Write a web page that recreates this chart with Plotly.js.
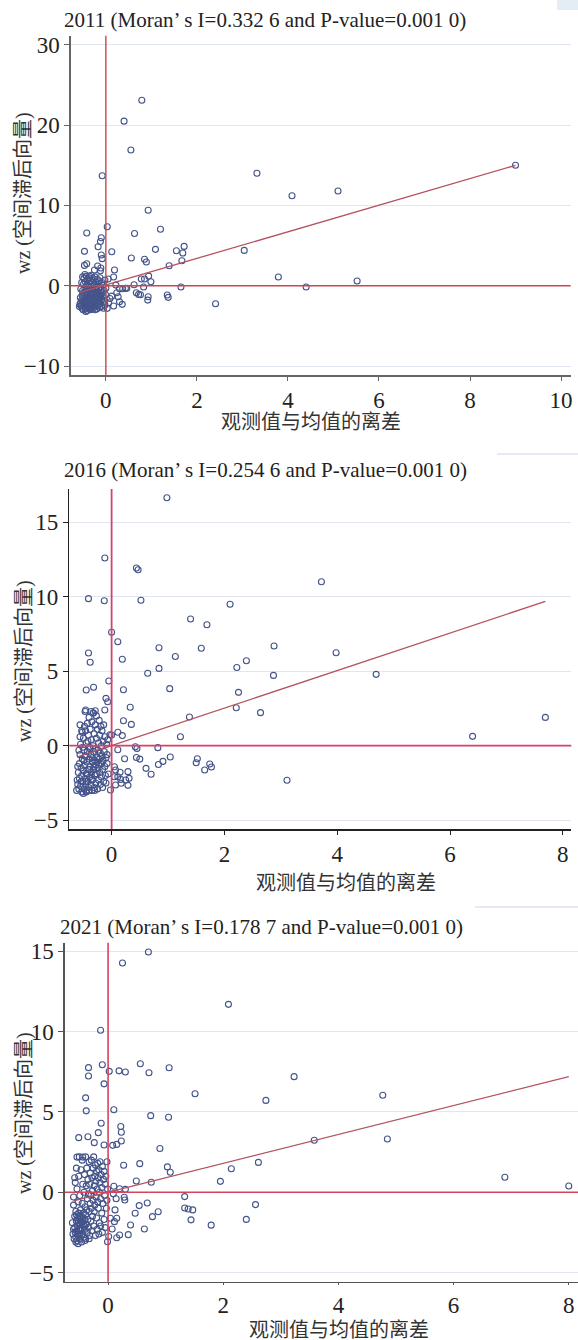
<!DOCTYPE html>
<html>
<head>
<meta charset="utf-8">
<script src="https://cdn.plot.ly/plotly-3.0.1.min.js"></script>
<style>html,body{margin:0;padding:0;background:#fff;}#chart{width:578px;height:1340px;}</style>
</head>
<body>
<div id="chart"></div>
<script>
// ---------------- DATA ----------------
const titles = [
  "2011 (Moran\u2019 s I=0.332 6 and P-value=0.001 0)",
  "2016 (Moran\u2019 s I=0.254 6 and P-value=0.001 0)",
  "2021 (Moran\u2019 s I=0.178 7 and P-value=0.001 0)"
];
const xTitle = "观测值与均值的离差";
const yTitle = "wz (空间滞后向量)";

// 2011 points [x, wz]
const pts2011 = [
 [-0.08,13.7],[3.32,14.0],[9.0,15.0],[4.09,11.2],[5.10,11.8],[0.93,9.4],[0.03,7.35],[1.2,7.03],[-0.42,6.56],[0.63,6.5],
 [-0.1,5.98],[-0.12,5.5],[-0.17,4.86],[-0.47,4.28],[0.13,4.24],[1.09,4.53],[1.55,4.36],[1.72,4.9],[1.69,4.07],[1.67,3.11],
 [3.04,4.4],[-0.1,3.82],[-0.08,3.37],[0.56,3.45],[0.85,3.29],[0.89,2.96],[1.39,2.49],[-0.42,2.74],[-0.47,2.53],[-0.18,2.46],
 [-0.11,2.2],[-0.12,1.87],[0.19,1.95],[-0.25,1.95],[0.17,1.08],[0.05,0.83],[0.94,1.2],[0.78,0.83],[0.85,0.83],[0.99,0.5],
 [0.62,0.12],[0.22,0.08],[3.79,1.08],[5.52,0.58],[4.4,-0.16],[1.65,-0.16],[2.41,-2.24],[0.83,-0.16],[0.46,-0.33],[0.37,-0.37],
 [0.3,-0.37],[0.67,-0.87],[0.72,-1.08],[0.76,-1.12],[0.93,-1.37],[0.92,-1.79],[1.35,-1.16],[1.37,-1.45],[0.27,-1.37],[0.24,-0.87],
 [0.3,-1.99],[0.36,-2.32],[0.17,-2.53],[0.06,-2.12],[0.03,-2.82],[0.13,-1.3],[0.09,-1.6],[0.43,-0.33],[0.79,23.1],[0.4,20.5],[0.55,16.9],
 [-0.55,-2.1],[-0.54,-2.5],[-0.53,-1.8],[-0.52,-2.8],[-0.52,-1.2],[-0.51,-0.6],[-0.5,-2.3],[-0.5,-3.0],[-0.49,0.2],[-0.49,-1.5],
 [-0.48,-2.0],[-0.48,0.9],[-0.47,-2.6],[-0.47,-1.0],[-0.46,-0.3],[-0.46,-1.9],[-0.45,-2.9],[-0.45,0.5],[-0.44,-2.2],[-0.44,-1.4],
 [-0.43,1.2],[-0.43,-0.8],[-0.42,-2.5],[-0.42,-1.7],[-0.41,0.0],[-0.41,-3.1],[-0.4,-2.0],[-0.4,-1.1],[-0.4,0.7],[-0.39,-2.7],
 [-0.39,-0.5],[-0.38,-1.6],[-0.38,-2.3],[-0.37,0.3],[-0.37,1.0],[-0.36,-1.3],[-0.36,-2.9],[-0.35,-0.2],[-0.35,-2.1],[-0.34,-1.8],
 [-0.34,0.6],[-0.33,-2.5],[-0.33,-0.9],[-0.32,-1.4],[-0.32,1.3],[-0.31,-2.2],[-0.31,-0.1],[-0.3,-2.8],[-0.3,-1.1],[-0.3,0.4],
 [-0.29,-1.7],[-0.29,-0.6],[-0.28,-2.4],[-0.28,0.9],[-0.27,-1.0],[-0.27,-2.0],[-0.26,0.1],[-0.26,-2.7],[-0.25,-1.5],[-0.25,-0.4],
 [-0.24,-2.2],[-0.24,1.1],[-0.23,-0.8],[-0.23,-1.9],[-0.22,0.5],[-0.22,-2.5],[-0.21,-1.2],[-0.21,-0.2],[-0.2,-2.9],[-0.2,-1.6],
 [-0.19,0.8],[-0.19,-0.6],[-0.18,-2.1],[-0.18,-1.0],[-0.17,0.2],[-0.17,-2.4],[-0.16,-1.4],[-0.16,-0.3],[-0.15,-1.9],[-0.15,0.6],
 [-0.14,-2.7],[-0.14,-0.9],[-0.13,-1.5],[-0.13,1.0],[-0.12,-0.1],[-0.12,-2.2],[-0.11,-1.2],[-0.1,-0.5],[-0.1,-2.6],[-0.09,0.4],
 [-0.09,-1.7],[-0.08,-0.9],[-0.07,-2.1],[-0.06,0.1],[-0.06,-1.3],[-0.05,-2.8],[-0.04,-0.6],[-0.03,-1.9],[-0.02,0.7],[-0.02,-2.4],
 [-0.01,-1.1],[0.0,-0.3],[-0.56,-1.5],[-0.57,-2.3],[-0.53,0.4],[-0.51,1.1],[-0.46,1.4],[-0.36,1.2],[-0.58,-2.6],[-0.44,-3.2],
 [-0.34,-3.0],[-0.24,-3.0],[-0.5,-0.9],[-0.55,-0.4]
];
const fit2011X = [-0.58, 9.0];
const fit2011Y = [-0.87, 15.0];

// 2016 points
const pts2016 = [
 [0.98,16.64],[-0.12,12.6],[0.44,11.93],[0.47,11.81],[3.72,11.0],[-0.41,9.87],[-0.13,9.73],[0.52,9.76],[2.1,9.49],[1.4,8.5],
 [1.69,8.12],[0.0,7.62],[0.11,6.98],[0.84,6.58],[1.59,6.54],[2.88,6.69],[-0.41,6.22],[3.98,6.24],[0.19,5.8],[1.13,5.99],
 [2.39,5.7],[-0.38,5.6],[2.22,5.25],[0.84,5.19],[0.64,4.86],[2.87,4.72],[4.69,4.79],[-0.05,4.34],[-0.45,3.74],[-0.32,3.92],
 [0.21,3.76],[1.03,3.83],[2.25,3.58],[-0.1,3.18],[-0.07,2.95],[2.21,2.55],[0.33,2.58],[2.64,2.22],[-0.46,2.4],[-0.12,2.4],
 [1.38,1.93],[7.69,1.9],[0.21,1.68],[0.35,1.43],[6.4,0.63],[1.22,0.6],[0.11,0.9],[-0.03,0.74],[0.0,0.72],[0.19,0.68],
 [0.42,-0.07],[0.45,-0.18],[0.82,-0.13],[0.11,-0.27],[0.44,-0.79],[0.5,-0.9],[0.23,-0.88],[1.04,-0.76],[0.91,-1.05],[0.83,-1.26],
 [0.61,-1.52],[0.7,-1.92],[1.52,-0.87],[1.5,-1.14],[1.74,-1.23],[1.77,-1.43],[1.65,-1.63],[3.11,-2.32],[0.05,-1.41],[0.07,-1.63],
 [0.11,-2.08],[0.05,-2.08],[0.16,-2.26],[0.29,-1.74],[0.31,-2.19],[0.29,-2.66],[0.17,-2.52],[0.07,-2.64],[-0.02,-2.97],[0.15,-1.78],
 [0.25,-2.3],[-0.29,2.35],[-0.32,2.2],
 [-0.62,-3.0],[-0.6,-2.6],[-0.59,-1.8],[-0.58,-2.9],[-0.57,-1.2],[-0.57,-2.2],[-0.56,-0.6],[-0.55,-2.7],[-0.55,0.1],[-0.54,-1.5],
 [-0.53,-3.1],[-0.53,-2.0],[-0.52,0.9],[-0.52,-0.9],[-0.51,-2.4],[-0.5,-1.7],[-0.5,0.5],[-0.49,-2.9],[-0.49,-0.3],[-0.48,1.3],
 [-0.48,-1.3],[-0.47,-2.2],[-0.47,-0.7],[-0.46,1.0],[-0.46,-2.6],[-0.45,-1.9],[-0.45,0.2],[-0.44,-3.0],[-0.44,-1.1],[-0.43,1.5],
 [-0.43,-0.4],[-0.42,-2.4],[-0.42,-1.6],[-0.41,0.7],[-0.41,-2.8],[-0.4,-0.9],[-0.4,1.9],[-0.39,-2.1],[-0.39,-0.1],[-0.38,-1.4],
 [-0.38,1.1],[-0.37,-2.6],[-0.37,-0.6],[-0.36,0.4],[-0.36,-1.8],[-0.35,-3.0],[-0.35,1.6],[-0.34,-1.1],[-0.34,-2.3],[-0.33,0.0],
 [-0.33,2.2],[-0.32,-1.6],[-0.32,-0.4],[-0.31,-2.8],[-0.31,0.8],[-0.3,-1.0],[-0.3,-2.0],[-0.29,1.4],[-0.29,-0.2],[-0.28,-2.5],
 [-0.28,-1.3],[-0.27,0.5],[-0.27,2.0],[-0.26,-0.8],[-0.26,-1.9],[-0.25,-2.9],[-0.25,1.1],[-0.24,-0.3],[-0.24,-1.5],[-0.23,0.2],
 [-0.23,-2.3],[-0.22,1.7],[-0.22,-0.9],[-0.21,-1.8],[-0.21,0.7],[-0.2,-2.6],[-0.2,-0.5],[-0.19,1.3],[-0.19,-1.2],[-0.18,0.0],
 [-0.18,-2.1],[-0.17,-0.7],[-0.17,1.0],[-0.16,-1.6],[-0.16,-2.8],[-0.15,0.3],[-0.15,-1.0],[-0.14,-2.4],[-0.14,1.4],[-0.13,-0.4],
 [-0.12,-1.4],[-0.12,0.6],[-0.11,-2.0],[-0.1,-0.8],[-0.1,-2.5],[-0.09,0.1],[-0.08,-1.2],[-0.08,-0.6],[-0.07,0.4],[-0.06,-1.9],
 [-0.6,-1.4],[-0.61,-2.3],[-0.58,-0.3],[-0.56,0.6],[-0.54,-2.4],[-0.51,-0.1],[-0.49,-1.0],[-0.45,-2.4],[-0.43,-1.9],[-0.39,-1.6],
 [-0.36,-2.3],[-0.34,-0.8],[-0.31,-1.4],[-0.29,-1.9],[-0.26,-1.1],[-0.23,-1.3],[-0.5,-3.2],[-0.45,-3.1],[-0.4,-3.0],[-0.3,-3.0],
 [-0.47,2.3],[-0.36,2.3],[-0.56,1.4],[-0.53,1.0],[-0.42,0.3],[-0.38,-0.2]
];
const fit2016X = [-0.59, 7.69];
const fit2016Y = [-0.74, 9.69];

// 2021 points
const pts2021 = [
 [0.7,14.96],[0.25,14.28],[2.09,11.7],[-0.13,10.09],[-0.34,7.76],[-0.34,7.24],[-0.1,7.94],[0.02,7.53],[0.19,7.56],[0.3,7.49],
 [0.56,8.0],[0.71,7.44],[1.06,7.75],[-0.07,6.75],[3.23,7.2],[1.51,6.13],[4.77,6.04],[-0.39,5.88],[2.74,5.72],[-0.38,5.07],
 [0.1,5.14],[0.74,4.77],[1.05,4.67],[-0.12,4.3],[0.22,4.09],[0.23,3.74],[0.23,3.19],[-0.17,3.71],[-0.51,3.4],[-0.35,3.46],
 [-0.24,3.09],[-0.07,2.94],[0.08,2.92],[0.15,2.98],[0.9,2.72],[-0.54,2.19],[-0.44,2.19],[0.27,1.68],[0.55,1.78],[1.03,1.58],
 [1.08,1.25],[2.14,1.46],[2.61,1.86],[1.95,0.68],[0.49,0.7],[0.75,0.62],[0.1,0.37],[0.2,0.22],[0.3,0.18],[0.28,-0.31],
 [0.29,-0.48],[0.09,-0.1],[0.14,-0.4],[1.33,-0.27],[1.33,-0.98],[1.39,-1.04],[1.47,-1.1],[1.44,-1.72],[2.56,-0.77],[2.4,-1.69],
 [1.79,-2.05],[0.54,-0.83],[0.47,-1.31],[0.68,-0.67],[0.87,-1.21],[0.77,-1.52],[0.39,-2.04],[0.63,-2.29],[0.35,-2.64],[0.2,-2.66],
 [0.15,-2.83],[0.07,-2.29],[0.11,-1.83],[0.15,-1.62],[0.12,-1.1],[0.04,-1.62],[0.01,-2.76],[-0.01,-3.08],[6.89,0.93],[8.0,0.39],
 [3.58,3.24],[4.85,3.32],
 [-0.62,-1.9],[-0.61,-2.6],[-0.6,-0.8],[-0.59,-2.9],[-0.58,-1.5],[-0.58,-2.2],[-0.57,0.6],[-0.56,-2.8],[-0.56,-1.2],[-0.55,-1.8],
 [-0.55,-2.4],[-0.54,0.2],[-0.54,-3.0],[-0.53,-1.6],[-0.53,-2.1],[-0.52,-0.6],[-0.52,-2.7],[-0.51,1.0],[-0.51,-1.3],[-0.5,-2.0],
 [-0.5,-2.9],[-0.49,-1.7],[-0.49,-0.2],[-0.48,-2.4],[-0.48,-1.1],[-0.47,1.4],[-0.47,-2.2],[-0.46,-1.5],[-0.46,-3.1],[-0.45,-0.7],
 [-0.45,-1.9],[-0.44,-2.6],[-0.44,0.5],[-0.43,-1.3],[-0.43,-2.0],[-0.42,-2.8],[-0.42,0.0],[-0.41,-1.7],[-0.41,1.1],[-0.4,-2.3],
 [-0.4,-0.9],[-0.39,-1.4],[-0.39,-2.9],[-0.38,0.4],[-0.38,-2.0],[-0.37,-1.1],[-0.37,1.5],[-0.36,-2.5],[-0.36,-0.4],[-0.35,-1.7],
 [-0.35,0.8],[-0.34,-2.2],[-0.34,-0.1],[-0.33,1.9],[-0.33,-1.2],[-0.32,-2.7],[-0.32,0.5],[-0.31,-0.7],[-0.31,1.2],[-0.3,-1.8],
 [-0.3,-0.2],[-0.29,2.0],[-0.29,-1.0],[-0.28,-2.4],[-0.28,0.9],[-0.27,0.1],[-0.27,-1.5],[-0.26,1.5],[-0.26,-0.5],[-0.25,-2.1],
 [-0.25,2.2],[-0.24,0.4],[-0.24,-1.2],[-0.23,1.0],[-0.23,-0.8],[-0.22,-2.7],[-0.22,1.7],[-0.21,-0.3],[-0.21,0.7],[-0.2,-1.6],
 [-0.2,1.3],[-0.19,0.2],[-0.19,-2.3],[-0.18,1.8],[-0.18,-0.6],[-0.17,0.9],[-0.17,-1.0],[-0.16,-2.6],[-0.16,1.4],[-0.15,0.0],
 [-0.15,-1.9],[-0.14,0.6],[-0.14,1.9],[-0.13,-0.4],[-0.13,-2.1],[-0.12,1.1],[-0.11,-1.3],[-0.11,0.3],[-0.1,-2.5],[-0.1,1.6],
 [-0.09,-0.7],[-0.08,0.8],[-0.07,-1.7],[-0.07,1.3],[-0.06,-0.2],[-0.05,-2.2],[-0.05,0.5],[-0.04,1.0],[-0.03,-1.0],[-0.02,1.9],
 [-0.02,-0.5],[-0.01,0.2],[-0.6,-2.3],[-0.57,-2.5],[-0.55,-1.4],[-0.53,-2.6],[-0.51,-2.3],[-0.49,-2.6],[-0.47,-1.8],[-0.45,-2.3],
 [-0.43,-1.6],[-0.41,-2.1],[-0.52,-1.9],[-0.48,-2.0],[-0.44,-1.8],[-0.5,-1.5],[-0.46,-2.7],[-0.56,-3.1],[-0.52,-3.2],[-0.4,-3.0],
 [-0.33,-2.9],[-0.6,-0.3],[-0.58,0.9],[-0.55,1.5],[-0.5,2.2],[-0.45,2.0],[-0.39,2.2]
];
const fit2021X = [-0.6, 8.0];
const fit2021Y = [-0.54, 7.2];

// ---------------- LAYOUT HELPERS ----------------
const W = 578, H = 1340;
const px = v => v / W;
const py = v => 1 - v / H;
const SERIF = "Liberation Serif, Times New Roman, serif";
const MIX = "Liberation Serif, Noto Sans CJK SC, serif";
const markerColor = "#44548a";

const panels = [
  {pts: pts2011, fx: fit2011X, fy: fit2011Y, xd: [70.8, 570.6], yd: [35.7, 375], xr: [-0.77, 10.21], yr: [-11.12, 31.14], dy: 10,
   axc: "#666", refc: "#c9464a", refw: 1.4, xtl: 4, title: [264.5, 20], xt: [311, 422], yt: [24, 193]},
  {pts: pts2016, fx: fit2016X, fy: fit2016Y, xd: [69.3, 571.3], yd: [489, 829], xr: [-0.75, 8.15], yr: [-5.59, 17.23], dy: 5,
   axc: "#222", refc: "#d5436a", refw: 1.8, xtl: 4, title: [265, 470], xt: [345.5, 883], yt: [24, 661]},
  {pts: pts2021, fx: fit2021X, fy: fit2021Y, xd: [64.9, 578], yd: [942.7, 1281.7], xr: [-0.75, 8.16], yr: [-5.57, 15.54], dy: 5,
   axc: "#555", refc: "#d4455c", refw: 1.6, xtl: 2, title: [261.5, 927], xt: [339, 1329.5], yt: [24, 1113]}
];

const data = [];
const layout = {
  width: W, height: H, margin: {l: 0, r: 0, t: 0, b: 0},
  paper_bgcolor: "#fff", plot_bgcolor: "#fff", showlegend: false,
  annotations: [], shapes: []
};

panels.forEach((p, i) => {
  const n = i === 0 ? "" : String(i + 1);
  const xa = "x" + n, ya = "y" + n;
  data.push({
    type: "scatter", mode: "markers", xaxis: xa, yaxis: ya,
    x: p.pts.map(d => d[0]), y: p.pts.map(d => d[1]),
    marker: {symbol: "circle-open", size: 6, color: markerColor, line: {width: 1.1, color: markerColor}},
    hoverinfo: "skip"
  });
  data.push({
    type: "scatter", mode: "lines", xaxis: xa, yaxis: ya,
    x: p.fx, y: p.fy, line: {color: "#b5525e", width: 1.3}, hoverinfo: "skip"
  });
  layout["xaxis" + n] = {
    domain: [px(p.xd[0]), px(p.xd[1])], range: p.xr, anchor: ya,
    tick0: 0, dtick: 2, showline: true, linecolor: p.axc, linewidth: 1.5,
    ticks: "outside", ticklen: p.xtl, tickcolor: p.axc, tickwidth: 1,
    showgrid: false, zeroline: false,
    tickfont: {family: SERIF, size: 23, color: "#222"}
  };
  layout["yaxis" + n] = {
    domain: [py(p.yd[1]), py(p.yd[0])], range: p.yr, anchor: xa,
    tick0: 0, dtick: p.dy, showline: true, linecolor: p.axc, linewidth: 1.5,
    ticks: "outside", ticklen: 5, tickcolor: p.axc, tickwidth: 1,
    showgrid: true, gridcolor: "#dfe6f1", gridwidth: 1, zeroline: false,
    tickfont: {family: SERIF, size: 23, color: "#222"}
  };
  // reference lines x=0 and y=0
  layout.shapes.push({type: "line", xref: xa, yref: ya + " domain", x0: 0, x1: 0, y0: 0, y1: 1,
    line: {color: p.refc, width: p.refw}, layer: "above"});
  layout.shapes.push({type: "line", xref: xa + " domain", yref: ya, x0: 0, x1: 1, y0: 0, y1: 0,
    line: {color: p.refc, width: p.refw}, layer: "above"});
  // titles
  layout.annotations.push({text: titles[i], xref: "paper", yref: "paper", x: px(p.title[0]), y: py(p.title[1]),
    xanchor: "center", yanchor: "middle", showarrow: false, font: {family: SERIF, size: 21, color: "#222"}});
  layout.annotations.push({text: xTitle, xref: "paper", yref: "paper", x: px(p.xt[0]), y: py(p.xt[1]),
    xanchor: "center", yanchor: "middle", showarrow: false, font: {family: MIX, size: 20, color: "#333"}});
  layout.annotations.push({text: yTitle, xref: "paper", yref: "paper", x: px(p.yt[0]), y: py(p.yt[1]),
    xanchor: "center", yanchor: "middle", textangle: -90, showarrow: false, font: {family: MIX, size: 20, color: "#333"}});
});

// faint legend-box remnants at top-right of each panel
layout.shapes.push({type: "rect", xref: "paper", yref: "paper", x0: px(557), x1: px(578), y0: py(10), y1: py(0),
  fillcolor: "#e4ecf6", line: {width: 0}});
layout.shapes.push({type: "line", xref: "paper", yref: "paper", x0: px(497), x1: px(578), y0: py(454), y1: py(454),
  line: {color: "#dde5f0", width: 1.5}});
layout.shapes.push({type: "line", xref: "paper", yref: "paper", x0: px(475), x1: px(578), y0: py(907), y1: py(907),
  line: {color: "#dde5f0", width: 1.5}});

Plotly.newPlot("chart", data, layout, {displayModeBar: false, staticPlot: true});
</script>
</body>
</html>
